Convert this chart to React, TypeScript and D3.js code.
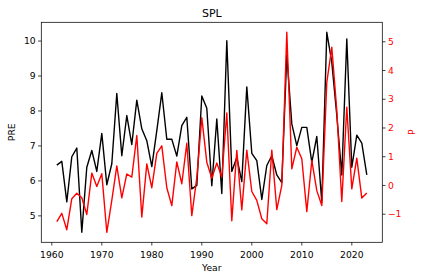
import React from "react";
import * as d3 from "d3";

const years: number[] = d3.range(1961, 2024);

const pre: number[] = [
  6.45, 6.56, 5.40, 6.69, 6.94, 4.53, 6.39, 6.87, 6.27, 7.36,
  5.89, 6.49, 8.50, 6.72, 7.87, 7.04, 8.31, 7.49, 7.15, 6.41,
  7.44, 8.52, 7.19, 7.19, 6.71, 7.58, 7.82, 5.77, 5.87, 8.43,
  8.08, 5.86, 7.77, 5.64, 10.01, 6.27, 6.67, 5.98, 8.69, 6.79,
  6.58, 5.47, 6.44, 6.72, 6.17, 5.95, 9.6, 7.63, 7.01, 7.53,
  7.53, 6.53, 7.27, 5.39, 10.25, 9.39, 7.87, 6.17, 10.06, 6.39,
  7.31, 7.08, 6.17,
];

const p: number[] = [
  -1.26, -0.97, -1.54, -0.46, -0.27, -0.43, -1.01, 0.43, -0.04, 0.41,
  -1.63, -0.52, 0.68, -0.43, 0.40, 0.29, 1.74, -1.10, 0.75, -0.08,
  1.12, 1.38, -0.08, -0.70, 0.82, 0.06, 1.47, -1.05, 0.27, 2.36,
  0.81, 0.25, 0.78, 0.29, 2.52, -1.23, 1.22, -0.85, 1.23, -0.21,
  -0.52, -1.16, -1.33, 1.23, -0.84, 0.0, 5.33, 0.58, 1.33, 0.93,
  -0.91, 0.87, -0.18, -0.70, 3.59, 4.81, 2.61, -0.56, 2.72, -0.12,
  0.95, -0.44, -0.26,
];

const xTicks: number[] = [1960, 1970, 1980, 1990, 2000, 2010, 2020];
const leftTicks: number[] = [5, 6, 7, 8, 9, 10];
const rightTicks: number[] = [-1, 0, 1, 2, 3, 4, 5];

const W = 424;
const H = 280;
const L = 41.3;
const R = 382.3;
const T = 22.3;
const B = 242.3;
const FONT = "DejaVu Sans, sans-serif";
const FS = 9.2;
const TICK = 3.2;

function padded(vals: number[]): [number, number] {
  const [a, b] = d3.extent(vals) as [number, number];
  const m = (b - a) * 0.05;
  return [a - m, b + m];
}

const fmt = (v: number) => (v < 0 ? "\u2212" + Math.abs(v) : String(v));

export default function App() {
  const x = d3.scaleLinear().domain(padded(years)).range([L, R]);
  const yL = d3.scaleLinear().domain(padded(pre)).range([B, T]);
  const yR = d3.scaleLinear().domain(padded(p)).range([B, T]);

  const lineL = d3
    .line<number>()
    .x((_, i) => x(years[i]))
    .y((d) => yL(d));
  const lineR = d3
    .line<number>()
    .x((_, i) => x(years[i]))
    .y((d) => yR(d));

  return (
    <div style={{ position: "fixed", left: 0, top: 0 }}>
      <svg width={W} height={H} style={{ display: "block", background: "#fff" }}>
        <defs>
          <clipPath id="clip">
            <rect x={L} y={T} width={R - L} height={B - T} />
          </clipPath>
        </defs>
        <g clipPath="url(#clip)">
          <path d={lineL(pre) || ""} fill="none" stroke="#000" strokeWidth={1.4} strokeLinejoin="round" />
          <path d={lineR(p) || ""} fill="none" stroke="red" strokeWidth={1.4} strokeLinejoin="round" />
        </g>
        <rect x={L} y={T} width={R - L} height={B - T} fill="none" stroke="#000" strokeWidth={0.75} />

        {xTicks.map((t) => (
          <g key={"x" + t}>
            <line x1={x(t)} x2={x(t)} y1={B} y2={B + TICK} stroke="#000" strokeWidth={0.75} />
            <text x={x(t)} y={B + 15.8} textAnchor="middle" fontFamily={FONT} fontSize={FS} fill="#000">
              {t}
            </text>
          </g>
        ))}

        {leftTicks.map((t) => (
          <g key={"l" + t}>
            <line x1={L - TICK} x2={L} y1={yL(t)} y2={yL(t)} stroke="#000" strokeWidth={0.75} />
            <text x={L - TICK - 2.4} y={yL(t)} dy="0.35em" textAnchor="end" fontFamily={FONT} fontSize={FS} fill="#000">
              {fmt(t)}
            </text>
          </g>
        ))}

        {rightTicks.map((t) => (
          <g key={"r" + t}>
            <line x1={R} x2={R + TICK} y1={yR(t)} y2={yR(t)} stroke="#000" strokeWidth={0.75} />
            <text x={R + TICK + 2.4} y={yR(t)} dy="0.35em" textAnchor="start" fontFamily={FONT} fontSize={FS} fill="red">
              {fmt(t)}
            </text>
          </g>
        ))}

        <text x={(L + R) / 2} y={17} textAnchor="middle" fontFamily={FONT} fontSize={11} fill="#000">
          SPL
        </text>
        <text x={(L + R) / 2} y={271} textAnchor="middle" fontFamily={FONT} fontSize={FS} fill="#000">
          Year
        </text>
        <text
          transform={`translate(${15}, ${(T + B) / 2}) rotate(-90)`}
          textAnchor="middle"
          fontFamily={FONT}
          fontSize={FS}
          fill="#000"
        >
          PRE
        </text>
        <text
          transform={`translate(${415}, ${(T + B) / 2}) rotate(-90)`}
          textAnchor="middle"
          fontFamily={FONT}
          fontSize={FS}
          fill="red"
        >
          P
        </text>
      </svg>
    </div>
  );
}
